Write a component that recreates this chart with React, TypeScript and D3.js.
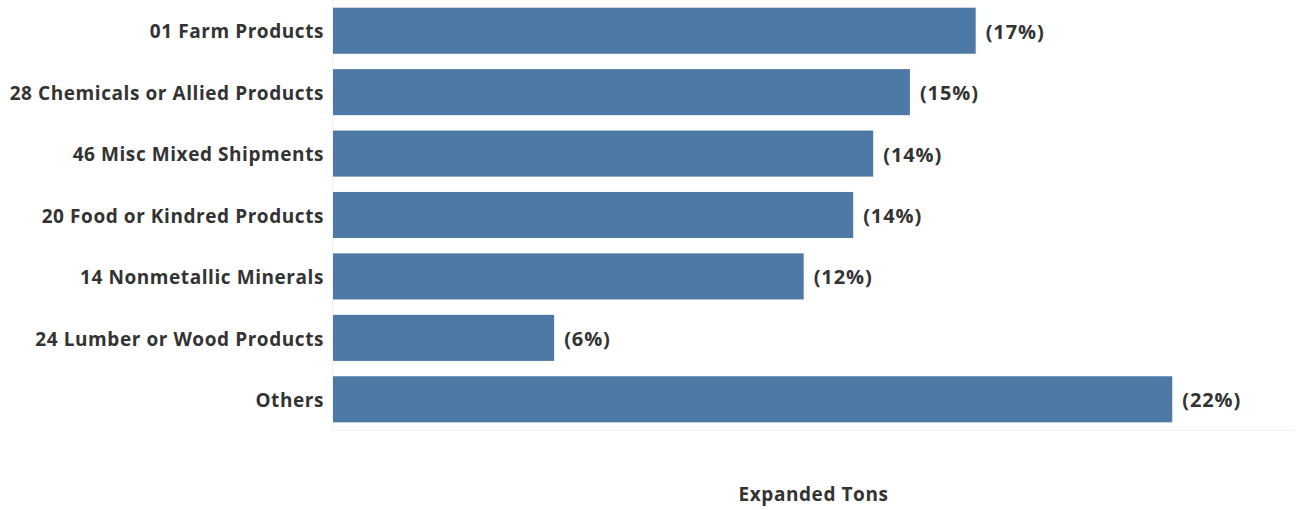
import React from "react";
import * as d3 from "d3";

const categories = [
  "01 Farm Products",
  "28 Chemicals or Allied Products",
  "46 Misc Mixed Shipments",
  "20 Food or Kindred Products",
  "14 Nonmetallic Minerals",
  "24 Lumber or Wood Products",
  "Others",
];

// Share of expanded tons, in percent
const shares = [17.0, 15.26, 14.29, 13.76, 12.45, 5.85, 22.2];

const axisTitle = "Expanded Tons";

const W = 1300;
const H = 510;
const left = 333;
const right = 1294;
const top = 0;
const bottom = 430;

const FONT = "'Open Sans', 'Noto Sans', sans-serif";
const TEXT = "#333333";
const BAR = "#4e79a7";

export default function App() {
  const x = d3.scaleLinear().domain([0, 25.42]).range([left, right]);
  const y = d3
    .scaleBand<string>()
    .domain(categories)
    .range([top, bottom])
    .paddingInner(0.25)
    .paddingOuter(0.125);

  const rows = categories.map((c, i) => ({ c, v: shares[i] }));

  return (
    <svg
      width={W}
      height={H}
      style={{ position: "absolute", left: 0, top: 0, background: "#fff" }}
      fontFamily={FONT}
    >
      {/* pane borders */}
      <line x1={left - 0.5} x2={left - 0.5} y1={top} y2={bottom} stroke="#f0f0f0" />
      <line x1={left} x2={right} y1={bottom + 0.5} y2={bottom + 0.5} stroke="#f0f0f0" />

      {rows.map((r) => {
        const yy = y(r.c) as number;
        const cy = yy + y.bandwidth() / 2;
        return (
          <g key={r.c}>
            <rect
              x={x(0)}
              y={yy}
              width={x(r.v) - x(0)}
              height={y.bandwidth()}
              fill={BAR}
            />
            <text
              x={left - 9}
              y={cy + 1}
              dy="0.35em"
              textAnchor="end"
              fontSize={19}
              fontWeight={700}
              letterSpacing={0.57}
              fill={TEXT}
            >
              {r.c}
            </text>
            <text
              x={x(r.v) + 10}
              y={cy + 1}
              dy="0.35em"
              fontSize={20}
              fontWeight={700}
              letterSpacing={0.9}
              fill={TEXT}
            >
              {`(${Math.round(r.v)}%)`}
            </text>
          </g>
        );
      })}

      <text
        x={(left + right) / 2}
        y={494}
        dy="0.35em"
        textAnchor="middle"
        fontSize={19}
        fontWeight={700}
        letterSpacing={0.57}
        fill={TEXT}
      >
        {axisTitle}
      </text>
    </svg>
  );
}
